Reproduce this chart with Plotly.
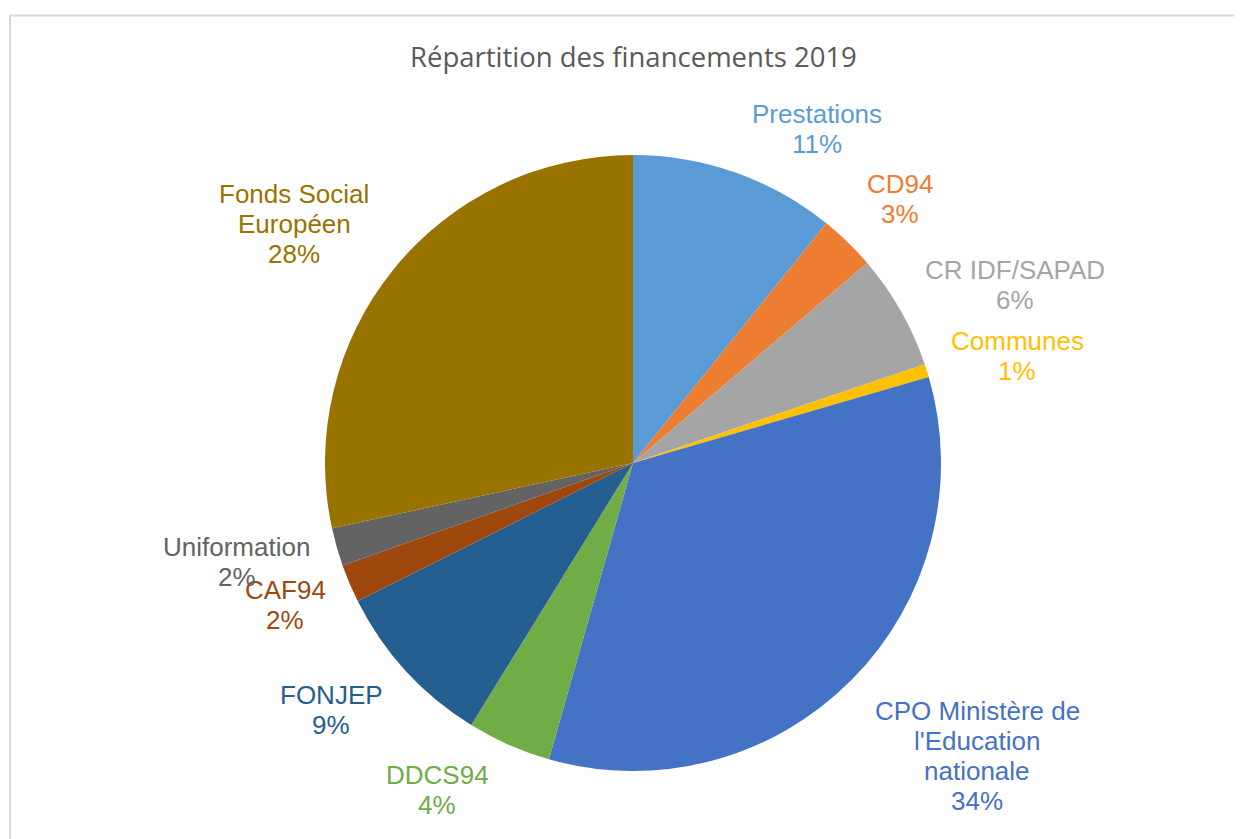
import plotly.graph_objects as go

W, H = 1242, 839
OFF = 8  # default page body margin in the browser

labels = ["Prestations", "CD94", "CR IDF/SAPAD", "Communes",
          "CPO Ministère de<br>l'Education<br>nationale", "DDCS94", "FONJEP",
          "CAF94", "Uniformation", "Fonds Social<br>Européen"]
values = [10.8, 2.95, 6.05, 0.7, 33.9, 4.4, 8.8, 2.0, 2.0, 28.4]
colors = ["#5B9BD5", "#ED7D31", "#A5A5A5", "#FFC000", "#4472C4",
          "#70AD47", "#255E91", "#9E480E", "#636363", "#997300"]

# label block centres in screen pixels (layout positions)
label_pos = [(817, 129), (900, 199), (1015, 285), (1017, 356), (977, 756),
             (437, 790), (331, 710), (285, 605), (237, 562), (294, 224)]


def px(x):
    return (x - OFF) / W


def py(y):
    return 1 - (y - OFF) / H


cx, cy, r = 633, 463, 308

fig = go.Figure(go.Pie(
    labels=labels, values=values, sort=False, direction="clockwise",
    rotation=0, marker=dict(colors=colors, line=dict(width=0)),
    textinfo="none", hoverinfo="label+percent", showlegend=False,
    domain=dict(x=[px(cx - r), px(cx + r)], y=[py(cy + r), py(cy - r)]),
))

total = sum(values)
line_h = 30
annotations = []
for lab, v, col, (lx, ly) in zip(labels, values, colors, label_pos):
    lines = lab.split("<br>") + [f"{round(v / total * 100)}%"]
    n = len(lines)
    for i, t in enumerate(lines):
        y = ly + (i - (n - 1) / 2) * line_h
        annotations.append(dict(
            x=px(lx), y=py(y), xref="paper", yref="paper", text=t,
            showarrow=False, xanchor="center", yanchor="middle",
            font=dict(family="Liberation Sans, Arial", size=26, color=col)))

annotations.append(dict(
    x=px(633), y=py(57), xref="paper", yref="paper",
    text="Répartition des financements 2019", showarrow=False,
    xanchor="center", yanchor="middle",
    font=dict(family="Open Sans", size=27.5, color="#595959")))

fig.update_layout(
    width=W, height=H, margin=dict(l=0, r=0, t=0, b=0),
    paper_bgcolor="white", plot_bgcolor="white",
    annotations=annotations,
    shapes=[dict(type="rect", xref="paper", yref="paper",
                 x0=px(10), x1=1.05, y0=-0.05, y1=py(15.5),
                 line=dict(color="#D9D9D9", width=2))],
)

fig.write_html("out.html")
